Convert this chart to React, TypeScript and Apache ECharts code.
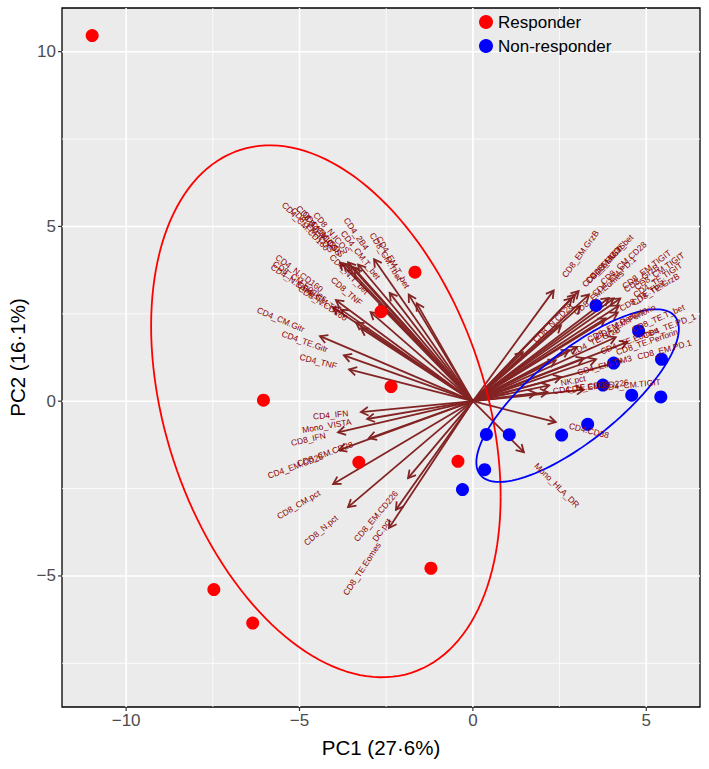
import React, { useEffect, useRef } from "react";
import * as echarts from "echarts";

const FONT = '"Liberation Sans", Arial, Helvetica, sans-serif';

// Sample scores (PC1, PC2)
const responderScores: [number, number][] = [
  [-10.98, 10.46], [-1.67, 3.69], [-2.65, 2.56], [-6.04, 0.03], [-2.36, 0.42],
  [-3.29, -1.75], [-0.43, -1.72], [-1.21, -4.78], [-7.47, -5.39], [-6.35, -6.35],
];
const nonResponderScores: [number, number][] = [
  [3.55, 2.74], [4.78, 2.01], [5.44, 1.20], [4.06, 1.09], [3.75, 0.46],
  [4.58, 0.17], [5.42, 0.12], [3.31, -0.66], [2.56, -0.97], [1.05, -0.96],
  [0.39, -0.95], [0.34, -1.96], [-0.30, -2.53],
];

// Variable loadings (arrow tips) [name, PC1, PC2]
const loadingsUpperLeft: [string, number, number][] = [
  ["CD4_CM.CD160", -3.83, 3.97], ["CD8_EM.ICOS", -3.72, 3.94], ["CD8_CM.ICOS", -3.60, 3.97],
  ["CD4_N.ICOS", -3.52, 3.86], ["CD4_CM.ICOS", -3.43, 3.80], ["CD8_N.ICOS", -3.31, 3.91],
  ["CD4_2B4", -2.85, 4.06], ["CD8_CM.Tbet", -1.85, 3.05], ["CD4_EM.T_bet", -1.62, 2.80],
  ["CD4_CM.T_bet", -2.40, 3.10], ["CD4_N.CD160", -3.95, 2.89], ["CD4_N.Eomes", -4.04, 2.69],
  ["CD8_CM.Eomes", -3.80, 2.62], ["CD4_N.T_bet", -2.70, 2.75], ["CD8_TNF", -2.95, 2.55],
  ["CD4_CM.TNF", -3.37, 2.25], ["CD8_N.CD160", -3.23, 2.09], ["CD4_CM.Gitr", -4.41, 1.86],
  ["CD4_TE.Gitr", -3.72, 1.31], ["CD4_TNF", -3.57, 0.91],
];
const loadingsLowerLeft: [string, number, number][] = [
  ["CD4_IFN", -3.23, -0.31], ["Mono_VISTA", -3.05, -0.51], ["CD8_IFN", -3.89, -0.89],
  ["CD8_CM.CD28", -3.00, -1.06], ["CD4_EM.CD28", -3.86, -1.40], ["CD8_CM.pct", -4.03, -2.37],
  ["CD8_N.pct", -3.60, -3.03], ["CD8_EM.CD226", -1.87, -2.20], ["DC.pct", -2.22, -3.11],
  ["CD8_TE.Eomes", -2.42, -3.63],
];
const loadingsRight: [string, number, number][] = [
  ["CD8_EM.GrzB", 2.33, 3.17], ["CD4_EM.ICOS", 2.85, 2.95], ["CD4_EM.Gitr", 2.95, 3.05],
  ["CD8_EM.T_bet", 3.05, 3.15], ["CD8_CM.CD28", 3.35, 3.05], ["CD4_EM.PD.1", 3.10, 2.72],
  ["CD8_EM.TIGIT", 3.92, 2.95], ["CD8_GrzB", 4.06, 2.94], ["CD8_CM.TIGIT", 4.25, 2.94],
  ["CD4_TE.TIGIT", 4.21, 2.74], ["CD8_TE.GrzB", 4.18, 2.54], ["CD8_TE.Tbet", 3.83, 2.37],
  ["CD8_EM.Eomes", 2.54, 2.17], ["CD8_EM.Perforin", 2.77, 1.46], ["CD4_EM.Perforin", 3.00, 1.55],
  ["CD8_TE.T_bet", 4.12, 1.83], ["CD4_TE.PD_1", 4.45, 1.69], ["CD4_TE.Eomes", 3.20, 1.23],
  ["CD8_EM.PD.1", 4.27, 1.14], ["CD8_TE.Perforin", 3.55, 1.20], ["CD4_EM.TIM3", 2.54, 0.69],
  ["NK.pct", 2.20, 0.45], ["CD4_EM.CD226", 2.16, 0.26], ["CD4_CM.TIGIT", 3.20, 0.33],
  ["CD8_N.CD28", 1.44, 1.40], ["CD4_TE.GrzB", 2.39, 1.17], ["CD4_TE.CD28", 1.82, 0.23],
  ["CD4.CD38", 2.39, -0.60], ["Mono_HLA_DR", 1.47, -1.46],
];

// Normal-probability ellipses (centre, spread, covariance)
const responderEllipse = { cx: -4.24, cy: -0.29, sx: 5.04, sy: 7.61, cxy: -12.3 };
const nonResponderEllipse = { cx: 3.02, cy: 0.16, sx: 2.92, sy: 2.47, cxy: 5.58 };

// Axis ticks
const xMajorTicks = [-10, -5, 0, 5];
const xMinorTicks = [-7.5, -2.5, 2.5];
const yMajorTicks = [-5, 0, 5, 10];
const yMinorTicks = [-7.5, -2.5, 2.5, 7.5];

const X_RANGE = [-11.85, 6.55];
const Y_RANGE = [-8.75, 11.25];

function ellipsePoints(e: { cx: number; cy: number; sx: number; sy: number; cxy: number }) {
  const l21 = e.cxy / e.sx;
  const l22 = Math.sqrt(e.sy * e.sy - l21 * l21);
  const pts: number[][] = [];
  const n = 160;
  for (let i = 0; i <= n; i++) {
    const t = (i / n) * 2 * Math.PI;
    pts.push([e.cx + e.sx * Math.cos(t), e.cy + l21 * Math.cos(t) + l22 * Math.sin(t)]);
  }
  return pts;
}

function fmtTick(v: number) {
  return v < 0 ? "\u2212" + Math.abs(v) : String(v);
}

export default function App() {
  const ref = useRef<HTMLDivElement>(null);
  useEffect(() => {
    document.body.style.margin = "0";
    const chart = echarts.init(ref.current!, null, { renderer: "svg" });
    const loadings = [...loadingsUpperLeft, ...loadingsLowerLeft, ...loadingsRight];
    const loadData = loadings.map((d, i) => [d[1], d[2], i]);

    const tickData = [
      ...xMajorTicks.map((v) => [v, 0]),
      ...xMinorTicks.map((v) => [v, 1]),
      ...yMajorTicks.map((v) => [v, 2]),
      ...yMinorTicks.map((v) => [v, 3]),
    ];

    const option: any = {
      animation: false,
      backgroundColor: "#ffffff",
      grid: {
        left: 62,
        right: 9,
        top: 8,
        bottom: 62,
        containLabel: false,
        outerBoundsMode: "none",
        show: true,
        backgroundColor: "#EBEBEB",
        borderColor: "#000000",
        borderWidth: 1.3,
        z: 0,
      },
      xAxis: {
        type: "value",
        min: X_RANGE[0],
        max: X_RANGE[1],
        axisLine: { show: false },
        axisTick: { show: false },
        axisLabel: { show: false },
        splitLine: { show: false },
        name: "PC1 (27\u00b76%)",
        nameLocation: "middle",
        nameGap: 30,
        nameTextStyle: { fontSize: 20.5, color: "#000", fontFamily: FONT },
      },
      yAxis: {
        type: "value",
        min: Y_RANGE[0],
        max: Y_RANGE[1],
        axisLine: { show: false },
        axisTick: { show: false },
        axisLabel: { show: false },
        splitLine: { show: false },
        name: "PC2 (16\u00b71%)",
        nameLocation: "middle",
        nameGap: 34,
        nameTextStyle: { fontSize: 20.5, color: "#000", fontFamily: FONT },
      },
      legend: {
        data: [
          { name: "Responder", icon: "circle" },
          { name: "Non-responder", icon: "circle" },
        ],
        orient: "vertical",
        left: 479,
        top: 12,
        padding: 0,
        itemWidth: 14,
        itemHeight: 14,
        itemGap: 4,
        textStyle: { fontSize: 17, color: "#000", fontFamily: FONT, lineHeight: 20 },
      },
      series: [
        {
          type: "custom",
          name: "grid",
          z: 1,
          clip: false,
          silent: true,
          data: tickData,
          renderItem: (params: any, api: any) => {
            const v = api.value(0);
            const kind = api.value(1);
            const cs = params.coordSys;
            const children: any[] = [];
            if (kind === 0 || kind === 1) {
              const px = api.coord([v, 0])[0];
              children.push({
                type: "line",
                shape: { x1: px, y1: cs.y, x2: px, y2: cs.y + cs.height },
                style: { stroke: "#ffffff", lineWidth: kind === 0 ? 1.6 : 0.8 },
              });
              if (kind === 0) {
                const by = cs.y + cs.height;
                children.push({
                  type: "line",
                  shape: { x1: px, y1: by, x2: px, y2: by + 4 },
                  style: { stroke: "#333333", lineWidth: 1.2 },
                });
                children.push({
                  type: "text",
                  x: px,
                  y: by + 5,
                  style: {
                    text: fmtTick(v),
                    fontSize: 17,
                    fontFamily: FONT,
                    fill: "#4D4D4D",
                    align: "center",
                    textAlign: "center",
                    verticalAlign: "top",
                    textVerticalAlign: "top",
                  },
                });
              }
            } else {
              const py = api.coord([0, v])[1];
              children.push({
                type: "line",
                shape: { x1: cs.x, y1: py, x2: cs.x + cs.width, y2: py },
                style: { stroke: "#ffffff", lineWidth: kind === 2 ? 1.6 : 0.8 },
              });
              if (kind === 2) {
                children.push({
                  type: "line",
                  shape: { x1: cs.x - 4, y1: py, x2: cs.x, y2: py },
                  style: { stroke: "#333333", lineWidth: 1.2 },
                });
                children.push({
                  type: "text",
                  x: cs.x - 6,
                  y: py,
                  style: {
                    text: fmtTick(v),
                    fontSize: 17,
                    fontFamily: FONT,
                    fill: "#4D4D4D",
                    align: "right",
                    textAlign: "right",
                    verticalAlign: "middle",
                    textVerticalAlign: "middle",
                  },
                });
              }
            }
            return { type: "group", children };
          },
        },
        {
          type: "custom",
          name: "arrows",
          z: 2,
          silent: true,
          data: loadData,
          renderItem: (params: any, api: any) => {
            const o = api.coord([0, 0]);
            const t = api.coord([api.value(0), api.value(1)]);
            const dx = t[0] - o[0];
            const dy = t[1] - o[1];
            const len = Math.sqrt(dx * dx + dy * dy);
            const ux = dx / len;
            const uy = dy / len;
            const L = 8.5;
            const a = Math.PI / 6;
            const h1 = [
              t[0] - L * (ux * Math.cos(a) - uy * Math.sin(a)),
              t[1] - L * (ux * Math.sin(a) + uy * Math.cos(a)),
            ];
            const h2 = [
              t[0] - L * (ux * Math.cos(-a) - uy * Math.sin(-a)),
              t[1] - L * (ux * Math.sin(-a) + uy * Math.cos(-a)),
            ];
            return {
              type: "group",
              children: [
                {
                  type: "line",
                  shape: { x1: o[0], y1: o[1], x2: t[0], y2: t[1] },
                  style: { stroke: "#832424", lineWidth: 1.8 },
                },
                {
                  type: "polyline",
                  shape: { points: [h1, t, h2] },
                  style: { stroke: "#832424", lineWidth: 1.8, fill: "none" },
                },
              ],
            };
          },
        },
        {
          type: "scatter",
          name: "Responder",
          z: 3,
          symbolSize: 13,
          itemStyle: { color: "#FF0000", opacity: 1 },
          data: responderScores,
        },
        {
          type: "scatter",
          name: "Non-responder",
          z: 3,
          symbolSize: 13,
          itemStyle: { color: "#0000FF", opacity: 1 },
          data: nonResponderScores,
        },
        {
          type: "line",
          name: "responderEllipse",
          z: 4,
          showSymbol: false,
          silent: true,
          lineStyle: { color: "#FF0000", width: 1.8 },
          data: ellipsePoints(responderEllipse),
        },
        {
          type: "line",
          name: "nonResponderEllipse",
          z: 4,
          showSymbol: false,
          silent: true,
          lineStyle: { color: "#0000FF", width: 1.8 },
          data: ellipsePoints(nonResponderEllipse),
        },
        {
          type: "custom",
          name: "labels",
          z: 5,
          silent: true,
          clip: false,
          data: loadData,
          renderItem: (params: any, api: any) => {
            const o = api.coord([0, 0]);
            const t = api.coord([api.value(0), api.value(1)]);
            const dx = t[0] - o[0];
            const dyUp = -(t[1] - o[1]);
            const rot = Math.atan(dyUp / dx);
            const name = loadings[params.dataIndex][0];
            const w = name.length * 4.4;
            const gap = 0.25 * w + 5;
            const left = dx < 0;
            return {
              type: "text",
              x: t[0],
              y: t[1],
              rotation: rot,
              style: {
                text: name,
                x: left ? -gap : gap,
                y: 0,
                fontSize: 8.5,
                fontFamily: FONT,
                fill: "#8B0000",
                align: left ? "right" : "left",
                textAlign: left ? "right" : "left",
                verticalAlign: "middle",
                textVerticalAlign: "middle",
              },
            };
          },
        },
      ],
    };
    chart.setOption(option);
    return () => chart.dispose();
  }, []);
  return <div ref={ref} style={{ width: 709, height: 769 }} />;
}
